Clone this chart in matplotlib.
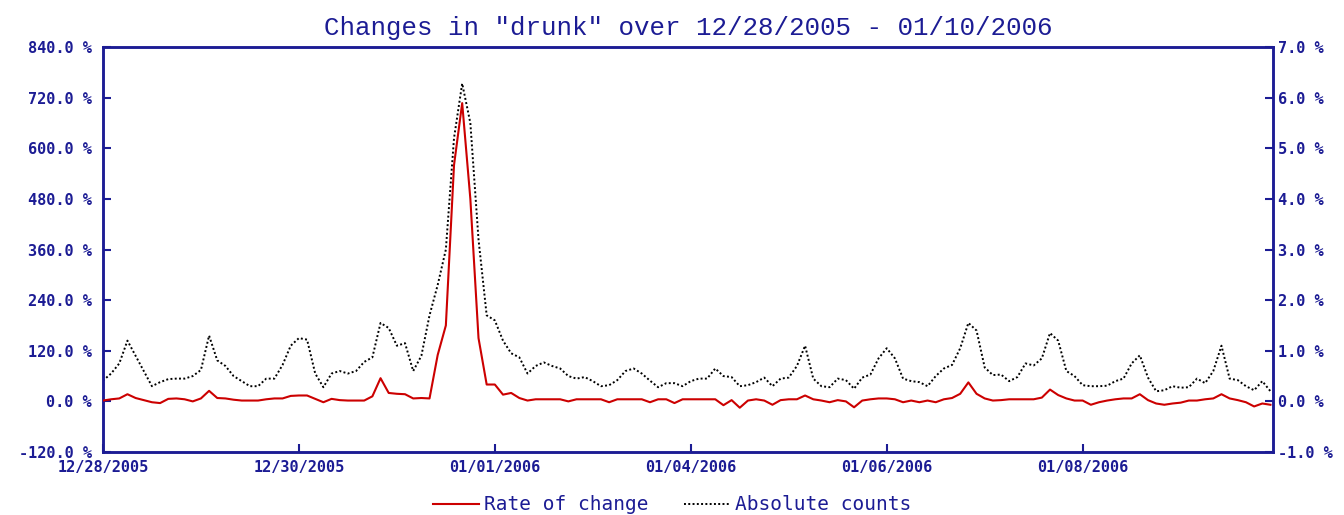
import matplotlib
matplotlib.use("Agg")
import matplotlib.pyplot as plt
from matplotlib.ticker import FormatStrFormatter

# Step 1 - The data (one point every ~8 px)
rate_of_change = [
    2, 5, 7, 17, 8, 3, -2, -4, 6, 7, 5, 0, 7, 25, 8, 7, 4, 2, 2, 2,
    5, 7, 7, 13, 14, 14, 6, -2, 6, 3, 2, 2, 2, 12, 55, 20, 18, 17, 7, 8,
    7, 110, 180, 560, 707, 480, 150, 40, 40, 16, 20, 8, 2, 5, 5, 5, 5, 0, 5, 5,
    5, 5, -2, 5, 5, 5, 5, -2, 5, 5, -4, 5, 5, 5, 5, 5, -9, 3, -15, 2,
    5, 2, -8, 3, 5, 5, 14, 5, 2, -2, 3, 0, -14, 2, 5, 7, 7, 5, -2, 2,
    -2, 2, -2, 5, 8, 18, 45, 18, 7, 2, 3, 5, 5, 5, 5, 9, 28, 15, 7, 2,
    2, -8, -2, 2, 5, 7, 7, 17, 3, -5, -8, -5, -3, 2, 2, 5, 7, 17, 7, 3,
    -2, -12, -5, -8,
]

absolute_counts = [
    0.41, 0.55, 0.75, 1.2, 0.9, 0.6, 0.3, 0.38, 0.44, 0.45, 0.45, 0.5, 0.62, 1.3, 0.81, 0.7, 0.5, 0.4, 0.3, 0.3,
    0.45, 0.45, 0.72, 1.1, 1.25, 1.22, 0.55, 0.28, 0.55, 0.6, 0.55, 0.6, 0.78, 0.87, 1.55, 1.45, 1.1, 1.15, 0.6, 0.9,
    1.7, 2.3, 3.0, 5.2, 6.28, 5.5, 3.2, 1.7, 1.6, 1.2, 0.95, 0.87, 0.55, 0.7, 0.77, 0.7, 0.65, 0.5, 0.45, 0.48,
    0.4, 0.3, 0.32, 0.42, 0.6, 0.65, 0.55, 0.41, 0.28, 0.36, 0.36, 0.3, 0.4, 0.45, 0.45, 0.65, 0.5, 0.48, 0.3, 0.32,
    0.38, 0.47, 0.3, 0.45, 0.47, 0.7, 1.1, 0.45, 0.3, 0.28, 0.45, 0.42, 0.25, 0.47, 0.53, 0.85, 1.05, 0.85, 0.45, 0.4,
    0.38, 0.3, 0.5, 0.65, 0.72, 1.05, 1.55, 1.4, 0.67, 0.52, 0.53, 0.4, 0.48, 0.75, 0.71, 0.85, 1.35, 1.2, 0.6, 0.5,
    0.32, 0.3, 0.3, 0.31, 0.4, 0.45, 0.75, 0.91, 0.47, 0.2, 0.22, 0.3, 0.27, 0.28, 0.45, 0.36, 0.6, 1.1, 0.45, 0.42,
    0.3, 0.22, 0.4, 0.2,
]

date_labels = ["12/28/2005", "12/30/2005", "01/01/2006", "01/04/2006", "01/06/2006", "01/08/2006"]
date_positions = [0, 24, 48, 72, 96, 120]

left_ticks = [-120, 0, 120, 240, 360, 480, 600, 720, 840]
right_ticks = [-1, 0, 1, 2, 3, 4, 5, 6, 7]

navy = "#1c1c94"
mono = "DejaVu Sans Mono"

# Step 2 - Figure and axes
fig = plt.figure(figsize=(13.44, 5.15), dpi=100)
ax = fig.add_axes([0.0766, 0.1223, 0.8705, 0.7864])
ax2 = ax.twinx()

x = list(range(len(rate_of_change)))
ax.plot(x, rate_of_change, color="#cc0000", linewidth=1.5, label="Rate of change", zorder=3)
ax2.plot(x, absolute_counts, color="black", linewidth=1.4, linestyle=(0, (1, 1.2)), label="Absolute counts")
ax.set_zorder(ax2.get_zorder() + 1)
ax.patch.set_visible(False)

ax.set_xlim(0, 143.3)
ax.set_ylim(-120, 840)
ax2.set_ylim(-1, 7)

ax.set_yticks(left_ticks)
ax2.set_yticks(right_ticks)
ax.yaxis.set_major_formatter(FormatStrFormatter("%.1f %%"))
ax2.yaxis.set_major_formatter(FormatStrFormatter("%.1f %%"))
ax.set_xticks(date_positions)
ax.set_xticklabels(date_labels)

# Step 3 - Styling (navy frame, inward ticks, monospace labels)
for a in (ax, ax2):
    for s in a.spines.values():
        s.set_color(navy)
        s.set_linewidth(1.8)
    a.tick_params(direction="in", length=6, width=1.5, color=navy, labelcolor=navy)
    for lab in a.get_xticklabels() + a.get_yticklabels():
        lab.set_fontfamily(mono)
        lab.set_fontweight("bold")
        lab.set_fontsize(11)
ax.tick_params(axis="y", pad=8)
ax2.tick_params(axis="y", pad=4)
ax.tick_params(axis="x", pad=6)

ax.set_title('Changes in "drunk" over 12/28/2005 - 01/10/2006',
             fontfamily="Liberation Mono", fontsize=18.6, color=navy, pad=9)

# Step 4 - Legend at the bottom
h1, l1 = ax.get_legend_handles_labels()
h2, l2 = ax2.get_legend_handles_labels()
leg = fig.legend(h1 + h2, l1 + l2, loc="lower center", bbox_to_anchor=(0.5, -0.033),
                 ncol=2, frameon=False, handlelength=2.4, handletextpad=0.25,
                 columnspacing=1.8, prop={"family": mono, "size": 14})
for t in leg.get_texts():
    t.set_color(navy)

plt.savefig("out.png", dpi=100)
print("Chart saved!!")
